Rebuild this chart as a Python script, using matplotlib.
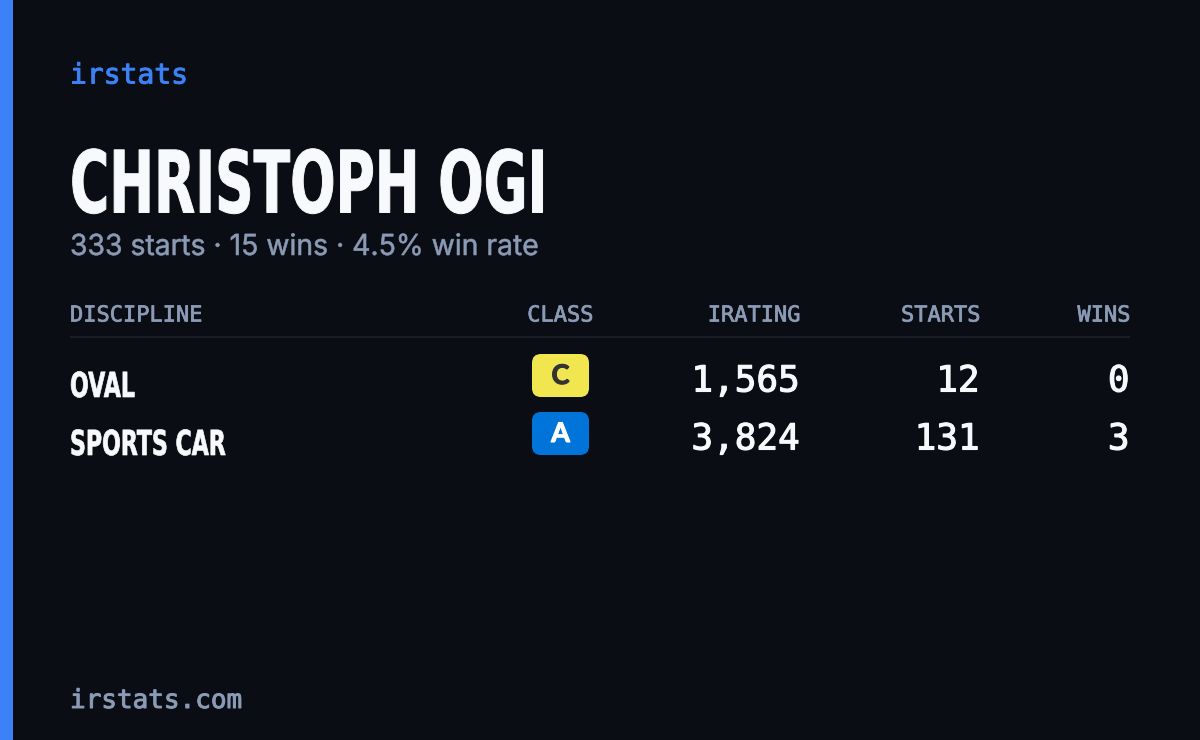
import matplotlib
matplotlib.use("Agg")
import matplotlib.pyplot as plt
import matplotlib.patheffects as pe
from matplotlib.patches import FancyBboxPatch, Rectangle
from matplotlib.transforms import Affine2D

# card data
brand = "irstats"
driver = "CHRISTOPH OGI"
summary = "333 starts · 15 wins · 4.5% win rate"
footer = "irstats.com"
headers = ["DISCIPLINE", "CLASS", "IRATING", "STARTS", "WINS"]
disciplines = ["OVAL", "SPORTS CAR"]
classes = ["C", "A"]
iratings = [1565, 3824]
starts = [12, 131]
wins = [0, 3]

BG = "#0a0d14"
BLUE = "#3b82f6"
WHITE = "#f8f9fc"
GREY = "#8b9ab5"
badge_colors = {"C": "#f2e650", "A": "#0074d9"}
badge_text = {"C": "#333333", "A": "#ffffff"}

MONO = "DejaVu Sans Mono"
HEAVY = "DejaVu Sans"
SANS = "Inter"


class Squeeze(pe.AbstractPathEffect):
    # no condensed font installed, so narrow the glyphs of the text when drawn
    def __init__(self, sx, stroke=0.0):
        super().__init__()
        self.sx = sx
        self.stroke = stroke

    def draw_path(self, renderer, gc, tpath, affine, rgbFace=None):
        gc0 = renderer.new_gc()
        gc0.copy_properties(gc)
        if self.stroke and rgbFace is not None:
            gc0.set_linewidth(self.stroke)
            gc0.set_foreground(rgbFace)
        renderer.draw_path(gc0, tpath, Affine2D().scale(self.sx, 1) + affine, rgbFace)
        gc0.restore()


def px(size):
    # font size given in pixels, figure is at 100 dpi
    return size * 0.72


def thick(color, width=0.5):
    return [pe.withStroke(linewidth=width, foreground=color)]


fig = plt.figure(figsize=(12, 7.4), dpi=100, facecolor=BG)
ax = fig.add_axes([0, 0, 1, 1])
ax.set_xlim(0, 1200)
ax.set_ylim(740, 0)
ax.axis("off")

ax.add_patch(Rectangle((0, 0), 13, 740, color=BLUE, lw=0))

ax.text(70, 83.5, brand, color=BLUE, fontsize=px(28), family=MONO, va="baseline",
        path_effects=thick(BLUE, 0.7))
ax.text(70, 212.5, driver, color=WHITE, fontsize=px(86), family=HEAVY,
        weight="bold", va="baseline", path_effects=[Squeeze(0.622, 0.7)])
ax.text(70, 255, summary, color=GREY, fontsize=px(29), family=SANS, va="baseline",
        path_effects=[Squeeze(0.977, 0.4)])

# header row
col_right = [None, 593.5, 800.5, 980.5, 1130.5]
ax.text(70, 321.5, headers[0], color=GREY, fontsize=px(22), family=MONO, va="baseline",
        path_effects=thick(GREY))
for name, right in zip(headers[1:], col_right[1:]):
    ax.text(right, 321.5, name, color=GREY, fontsize=px(22), family=MONO,
            ha="right", va="baseline", path_effects=thick(GREY))
ax.plot([70, 1130], [337, 337], color="#1a1d27", lw=1.5, solid_capstyle="butt")

# table rows
for i, disc in enumerate(disciplines):
    y = 397 + i * 58
    ax.text(70, y, disc, color=WHITE, fontsize=px(34.5), family=HEAVY,
            weight="bold", va="baseline", path_effects=[Squeeze(0.64, 0.5)])
    cls = classes[i]
    ax.add_patch(FancyBboxPatch((537, y - 38), 47, 33,
                                boxstyle="round,pad=5,rounding_size=9",
                                fc=badge_colors[cls], ec="none"))
    ax.text(560.5, y - 13, cls, color=badge_text[cls], fontsize=px(27),
            family="Lato", weight="bold", ha="center", va="baseline",
            path_effects=thick(badge_text[cls], 0.8))
    vals = [f"{iratings[i]:,}", str(starts[i]), str(wins[i])]
    for val, right in zip(vals, col_right[2:]):
        ax.text(right - 1, y - 5.5, val, color=WHITE, fontsize=px(36), family=MONO,
                ha="right", va="baseline", path_effects=thick(WHITE, 0.8))

ax.text(70, 708, footer, color=GREY, fontsize=px(26), family=MONO, va="baseline",
        path_effects=thick(GREY, 0.7))

fig.savefig("out.png", dpi=100, facecolor=BG)
